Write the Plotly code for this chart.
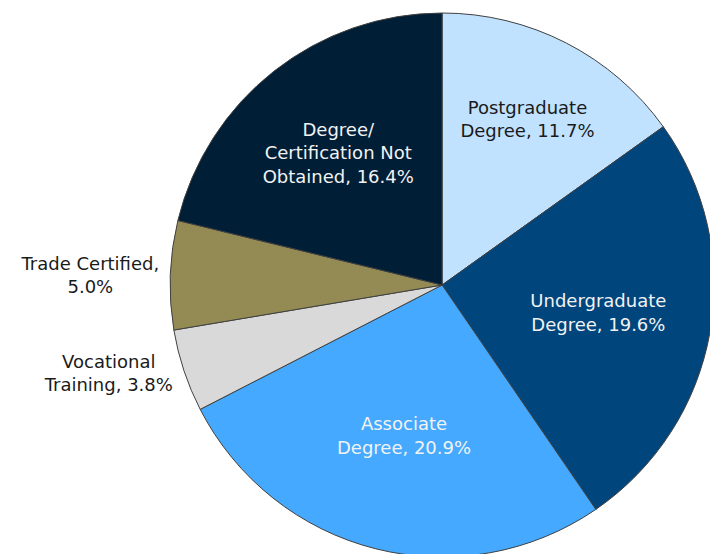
import plotly.graph_objects as go

labels = [
    "Postgraduate<br>Degree",
    "Undergraduate<br>Degree",
    "Associate<br>Degree",
    "Vocational<br>Training",
    "Trade Certified,",
    "Degree/<br>Certification Not<br>Obtained",
]
values = [11.7, 19.6, 20.9, 3.8, 5.0, 16.4]
colors = ["#C0E2FF", "#00457C", "#45AAFF", "#D9D9D9", "#948A54", "#001F37"]
text_colors = ["#1A1A1A", "#F2F2F2", "#F2F2F2", "#1A1A1A", "#1A1A1A", "#F2F2F2"]
positions = ["inside", "inside", "inside", "outside", "outside", "inside"]

texts = []
for lab, v in zip(labels, values):
    if lab.endswith(","):
        texts.append(f"{lab}<br>{v:.1f}%")
    else:
        texts.append(f"{lab}, {v:.1f}%")

fig = go.Figure(go.Pie(
    labels=labels,
    values=values,
    text=texts,
    textinfo="text",
    textposition=positions,
    insidetextorientation="horizontal",
    sort=False,
    direction="clockwise",
    rotation=0,
    marker=dict(colors=colors, line=dict(color="#404040", width=1)),
    textfont=dict(color=text_colors, size=18, family="DejaVu Sans"),
    outsidetextfont=dict(color="#1A1A1A", size=18, family="DejaVu Sans"),
    domain=dict(x=[0.2228, 1.0], y=[0, 1]),
    showlegend=False,
    hoverinfo="label+text",
))

fig.update_layout(
    width=718,
    height=554,
    margin=dict(l=0, r=0, t=0, b=0),
    paper_bgcolor="white",
    plot_bgcolor="white",
    font=dict(family="DejaVu Sans"),
)

fig.write_html("out.html")
